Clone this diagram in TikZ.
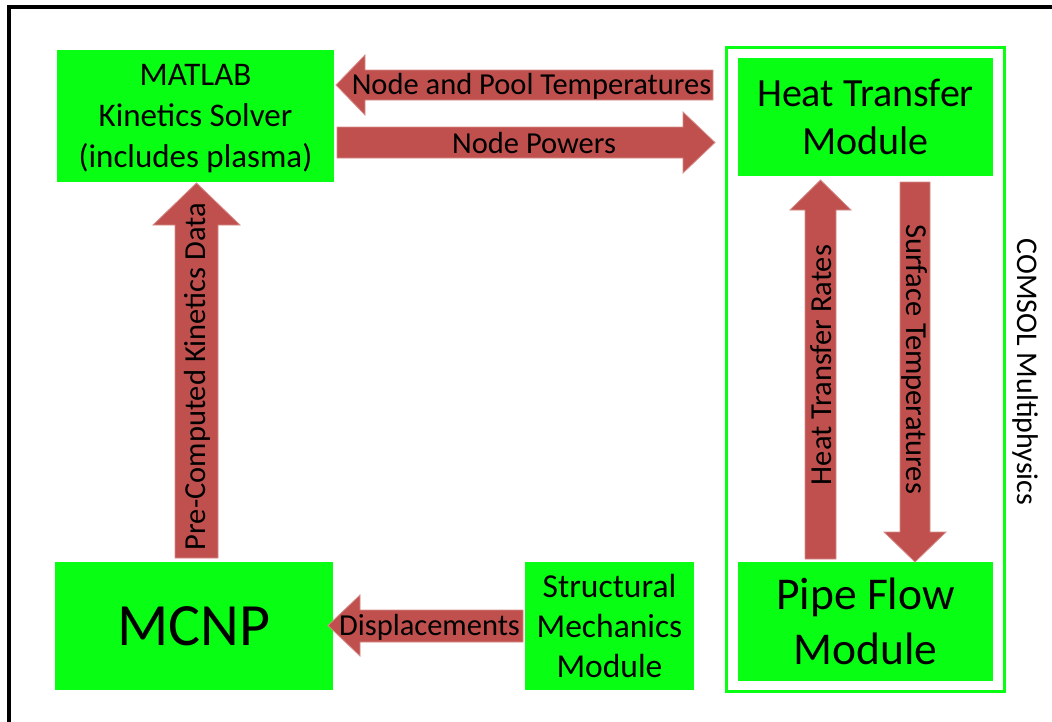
\documentclass[tikz,border=0pt]{standalone}
\usepackage{fontspec}
\setmainfont{Carlito}
\definecolor{boxgreen}{RGB}{8,255,20}
\definecolor{arrred}{RGB}{192,80,77}
\definecolor{arredge}{RGB}{214,140,138}
\begin{document}
\begin{tikzpicture}[x=1pt,y=-1pt,
  greenbox/.style={fill=boxgreen,draw=none,inner sep=0pt,align=center},
  blockarr/.style={fill=arrred,draw=arredge,line width=0.8pt,line join=miter},
  arrlabel/.style={inner sep=0pt,font=\fontsize{30.5}{36}\selectfont}]
\useasboundingbox (0,0) rectangle (1052,721);
\clip (0,0) rectangle (1052,721);
\fill[white] (0,0) rectangle (1052,721);
% outer frame
\draw[line width=3.5pt] (9,7) rectangle (1070,740);
% COMSOL outline
\draw[boxgreen,line width=3pt] (726.5,47.5) rectangle (1004.5,691.5);
% boxes
\node[greenbox,minimum width=277pt,minimum height=132pt] (matlab) at (195.5,116) {};
\node[align=center,inner sep=0pt,font=\fontsize{33}{41}\selectfont] (matlabtxt) at (195.5,119) {MATLAB\\Kinetics Solver\\(includes plasma)};
\node[greenbox,minimum width=255pt,minimum height=118pt,font=\fontsize{40}{48}\selectfont] (heat) at (865.5,117) {Heat Transfer\\Module};
\node[greenbox,minimum width=255pt,minimum height=119pt,font=\fontsize{45.5}{55}\selectfont] (pipe) at (865.5,621.5) {Pipe Flow\\Module};
\node[greenbox,minimum width=278pt,minimum height=128pt,font=\fontsize{60}{66}\selectfont] (mcnp) at (194,626) {MCNP};
\node[greenbox,minimum width=169pt,minimum height=128pt,font=\fontsize{33.5}{40}\selectfont] (struct) at (609.5,626) {Structural\\Mechanics\\Module};
% block arrows
% Node and Pool Temperatures (left)
\fill[blockarr] (336,85) -- (365,55) -- (365,70) -- (713,70) -- (713,100) -- (365,100) -- (365,115) -- cycle;
\node[arrlabel] (lab1) at (531.5,86) {Node and Pool Temperatures};
% Node Powers (right)
\fill[blockarr] (715,142.5) -- (683,112) -- (683,127) -- (337,127) -- (337,158) -- (683,158) -- (683,173) -- cycle;
\node[arrlabel] (lab2) at (534,143.5) {Node Powers};
% Pre-Computed Kinetics Data (up)
\fill[blockarr] (196.5,183) -- (153,225) -- (175,225) -- (175,558) -- (218,558) -- (218,225) -- (240,225) -- cycle;
\node[arrlabel,rotate=90] (lab3) at (197.5,376.5) {Pre-Computed Kinetics Data};
% Heat Transfer Rates (up)
\fill[blockarr] (820.5,180) -- (790,210) -- (805,210) -- (805,559) -- (836,559) -- (836,210) -- (851,210) -- cycle;
\node[arrlabel,rotate=90] (lab4) at (821,365) {Heat Transfer Rates};
% Surface Temperatures (down)
\fill[blockarr] (915,562) -- (884,532) -- (900,532) -- (900,182) -- (930,182) -- (930,532) -- (946,532) -- cycle;
\node[arrlabel,rotate=-90] (lab5) at (914,359) {Surface Temperatures};
% Displacements (left)
\fill[blockarr] (328,625.5) -- (360,595) -- (360,610) -- (523,610) -- (523,642) -- (360,642) -- (360,656) -- cycle;
\node[arrlabel] (lab6) at (429.5,627) {Displacements};
% COMSOL label
\node[inner sep=0pt,rotate=-90,font=\fontsize{30}{34}\selectfont] (comsol) at (1025,372) {COMSOL Multiphysics};
\end{tikzpicture}
\end{document}
